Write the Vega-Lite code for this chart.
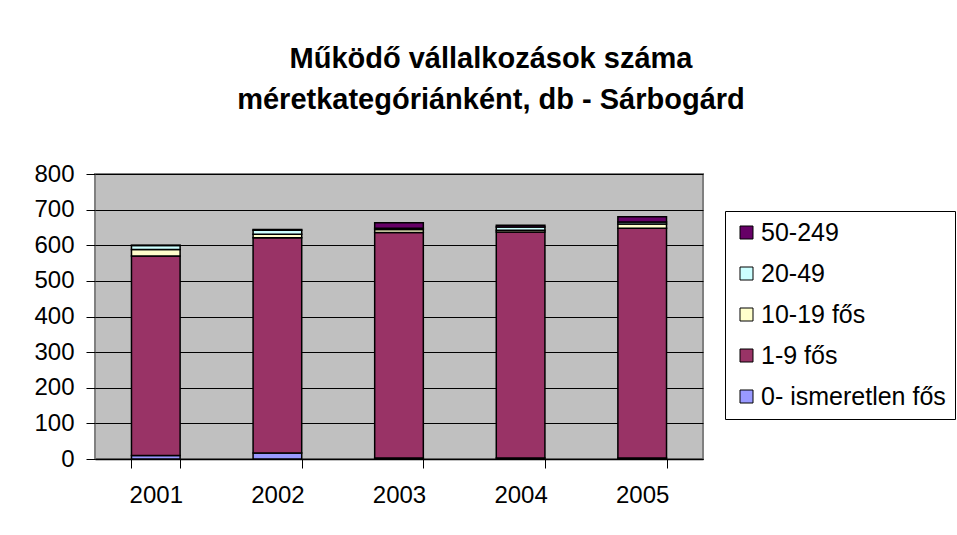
{
  "$schema": "https://vega.github.io/schema/vega-lite/v6.json",
  "width": 608,
  "height": 285,
  "autosize": {"type": "none"},
  "padding": {"left": 95, "top": 174, "right": 254, "bottom": 76},
  "background": "white",
  "title": {
    "text": ["Működő vállalkozások száma", "méretkategóriánként, db - Sárbogárd"],
    "font": "Liberation Sans",
    "fontSize": 29,
    "fontWeight": "bold",
    "lineHeight": 41,
    "anchor": "middle",
    "frame": "group",
    "dx": 92,
    "offset": 47,
    "color": "black"
  },
  "data": {
    "values": [
      {"year": "2001", "cat": "0- ismeretlen fős", "rank": 1, "value": 10},
      {"year": "2001", "cat": "1-9 fős", "rank": 2, "value": 560},
      {"year": "2001", "cat": "10-19 fős", "rank": 3, "value": 18},
      {"year": "2001", "cat": "20-49", "rank": 4, "value": 11},
      {"year": "2001", "cat": "50-249", "rank": 5, "value": 1},
      {"year": "2002", "cat": "0- ismeretlen fős", "rank": 1, "value": 17},
      {"year": "2002", "cat": "1-9 fős", "rank": 2, "value": 604},
      {"year": "2002", "cat": "10-19 fős", "rank": 3, "value": 10},
      {"year": "2002", "cat": "20-49", "rank": 4, "value": 11},
      {"year": "2002", "cat": "50-249", "rank": 5, "value": 2},
      {"year": "2003", "cat": "0- ismeretlen fős", "rank": 1, "value": 3},
      {"year": "2003", "cat": "1-9 fős", "rank": 2, "value": 633},
      {"year": "2003", "cat": "10-19 fős", "rank": 3, "value": 8},
      {"year": "2003", "cat": "20-49", "rank": 4, "value": 4},
      {"year": "2003", "cat": "50-249", "rank": 5, "value": 15},
      {"year": "2004", "cat": "0- ismeretlen fős", "rank": 1, "value": 3},
      {"year": "2004", "cat": "1-9 fős", "rank": 2, "value": 634},
      {"year": "2004", "cat": "10-19 fős", "rank": 3, "value": 5},
      {"year": "2004", "cat": "20-49", "rank": 4, "value": 9},
      {"year": "2004", "cat": "50-249", "rank": 5, "value": 5},
      {"year": "2005", "cat": "0- ismeretlen fős", "rank": 1, "value": 3},
      {"year": "2005", "cat": "1-9 fős", "rank": 2, "value": 645},
      {"year": "2005", "cat": "10-19 fős", "rank": 3, "value": 12},
      {"year": "2005", "cat": "20-49", "rank": 4, "value": 5},
      {"year": "2005", "cat": "50-249", "rank": 5, "value": 15}
    ]
  },
  "mark": {"type": "bar", "stroke": "black", "strokeWidth": 1.5},
  "encoding": {
    "x": {
      "field": "year",
      "type": "nominal",
      "scale": {"paddingInner": 0.6, "paddingOuter": 0.3},
      "axis": {
        "title": null,
        "tickBand": "extent",
        "labelAngle": 0,
        "labelFont": "Liberation Sans",
        "labelFontSize": 24,
        "labelColor": "black",
        "tickColor": "black",
        "tickSize": 9,
        "domainColor": "black",
        "domainWidth": 1.5,
        "labelPadding": 15,
        "grid": false,
        "encode": {"labels": {"update": {"dx": {"signal": "datum.value == '2001' ? 24 : 0"}}}}
      }
    },
    "y": {
      "field": "value",
      "type": "quantitative",
      "stack": "zero",
      "scale": {"domain": [0, 800]},
      "axis": {
        "title": null,
        "values": [0, 100, 200, 300, 400, 500, 600, 700, 800],
        "grid": true,
        "gridColor": "black",
        "gridWidth": 1,
        "gridOpacity": 1,
        "domain": false,
        "tickColor": "black",
        "tickSize": 9,
        "labelPadding": 12,
        "labelFont": "Liberation Sans",
        "labelFontSize": 24,
        "labelColor": "black"
      }
    },
    "color": {
      "field": "cat",
      "type": "nominal",
      "scale": {
        "domain": ["50-249", "20-49", "10-19 fős", "1-9 fős", "0- ismeretlen fős"],
        "range": ["#660066", "#CCFFFF", "#FFFFCC", "#993366", "#9999FF"]
      },
      "legend": {
        "orient": "none",
        "legendX": 630,
        "legendY": 37,
        "title": null,
        "strokeColor": "black",
        "fillColor": "white",
        "padding": 9,
        "symbolType": "square",
        "symbolSize": 169,
        "symbolStrokeColor": "black",
        "symbolStrokeWidth": 1,
        "symbolOpacity": 1,
        "labelFont": "Liberation Sans",
        "labelFontSize": 25,
        "labelLimit": 400,
        "labelColor": "black",
        "labelOffset": 2,
        "rowPadding": 15
      }
    },
    "order": {"field": "rank", "type": "quantitative"}
  },
  "config": {
    "view": {"fill": "#C0C0C0", "stroke": "#808080", "strokeWidth": 2}
  }
}
